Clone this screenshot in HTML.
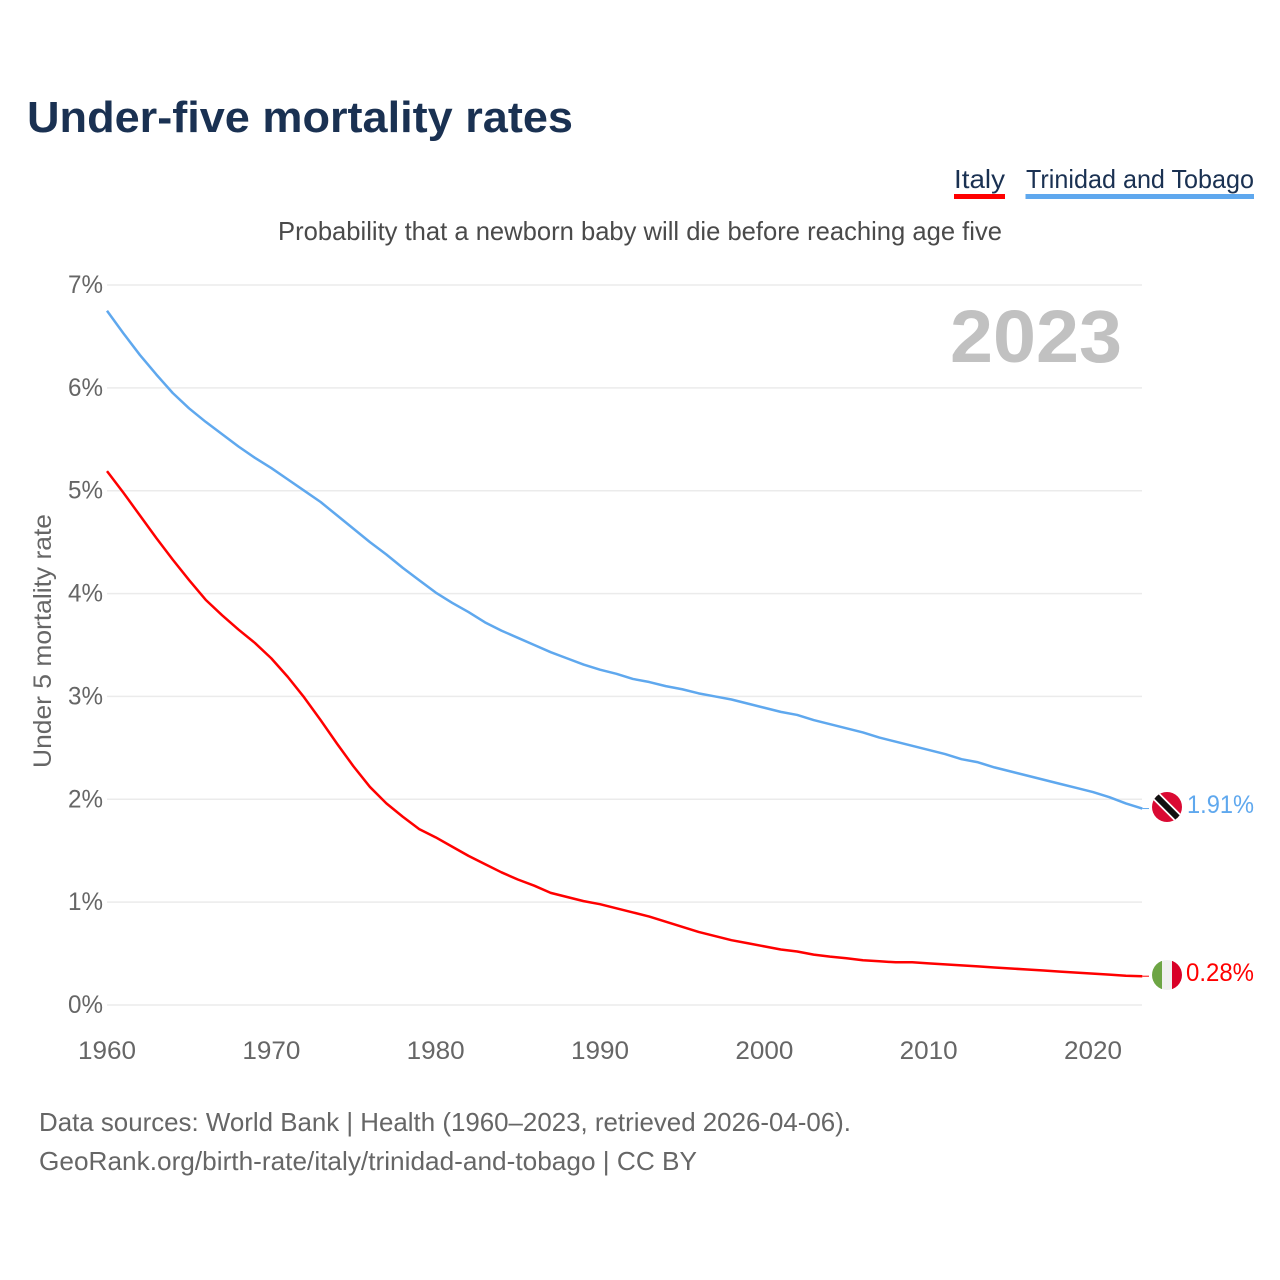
<!DOCTYPE html>
<html lang="en">
<head>
<meta charset="utf-8">
<title>Under-five mortality rates</title>
<style>
html,body{margin:0;padding:0;background:#fff;width:1280px;height:1280px;overflow:hidden}
svg{display:block}
text{font-family:"Liberation Sans",sans-serif}
</style>
</head>
<body>
<svg id="chart" width="1280" height="1280" viewBox="0 0 1280 1280" xmlns="http://www.w3.org/2000/svg">
  <defs>
    <clipPath id="clip-tt"><circle cx="1167" cy="807" r="15"/></clipPath>
    <clipPath id="clip-it"><circle cx="1167" cy="975" r="15"/></clipPath>
  </defs>
  <rect width="1280" height="1280" fill="#fff"/>
  <text x="27" y="132" font-size="44" font-weight="700" fill="#1a3152" textLength="546" lengthAdjust="spacingAndGlyphs">Under-five mortality rates</text>

  <g>
    <text x="954" y="188" font-size="26" fill="#1a3152" textLength="51" lengthAdjust="spacingAndGlyphs">Italy</text>
    <rect x="954" y="194" width="51" height="5" fill="#ff0000"/>
  </g>
  <g>
    <text x="1026" y="188" font-size="26" fill="#1a3152" textLength="228" lengthAdjust="spacingAndGlyphs">Trinidad and Tobago</text>
    <rect x="1025.500" y="194" width="228.500" height="5" fill="#5fa8ee"/>
  </g>

  <text x="278" y="240" font-size="26" fill="#4a4a4a" textLength="724" lengthAdjust="spacingAndGlyphs">Probability that a newborn baby will die before reaching age five</text>

  <g id="grid"></g>
  <g id="yticks"></g>
  <g id="xticks"></g>

  <text transform="translate(51,768) rotate(-90)" x="0" y="0" font-size="25" fill="#666" textLength="254" lengthAdjust="spacingAndGlyphs">Under 5 mortality rate</text>

  <text x="1122" y="362" text-anchor="end" font-size="74" font-weight="700" fill="#c1c1c1" textLength="172" lengthAdjust="spacingAndGlyphs">2023</text>

  <g id="series"></g>

  <g clip-path="url(#clip-tt)">
    <rect x="1152" y="792" width="30" height="30" fill="#da0a33"/>
    <line x1="1150" y1="790" x2="1184" y2="824" stroke="#fff" stroke-width="9.500"/>
    <line x1="1150" y1="790" x2="1184" y2="824" stroke="#111" stroke-width="6"/>
  </g>
  <g clip-path="url(#clip-it)">
    <rect x="1152" y="960" width="10" height="30" fill="#6da544"/>
    <rect x="1162" y="960" width="10" height="30" fill="#f0f0f0"/>
    <rect x="1172" y="960" width="10" height="30" fill="#d80027"/>
  </g>

  <text id="label-tt" x="1187" y="813" font-size="25" fill="#5fa8ee" textLength="67" lengthAdjust="spacingAndGlyphs"></text>
  <text id="label-it" x="1186" y="981" font-size="25" fill="#ff0000" textLength="68" lengthAdjust="spacingAndGlyphs"></text>

  <text x="39" y="1131" font-size="26" fill="#666" textLength="812" lengthAdjust="spacingAndGlyphs">Data sources: World Bank | Health (1960–2023, retrieved 2026-04-06).</text>
  <text x="39" y="1170" font-size="26" fill="#666" textLength="658" lengthAdjust="spacingAndGlyphs">GeoRank.org/birth-rate/italy/trinidad-and-tobago | CC BY</text>
</svg>
<script>
const startYear = 1960;
const yTickValues = [0, 1, 2, 3, 4, 5, 6, 7];
const yTickLabels = ["0%", "1%", "2%", "3%", "4%", "5%", "6%", "7%"];
const xTickValues = [1960, 1970, 1980, 1990, 2000, 2010, 2020];
const xTickLabels = ["1960", "1970", "1980", "1990", "2000", "2010", "2020"];
const trinidadValues = [
  6.75, 6.53, 6.32, 6.13, 5.95, 5.80, 5.67, 5.55, 5.43, 5.32,
  5.22, 5.11, 5.00, 4.89, 4.76, 4.63, 4.50, 4.38, 4.25, 4.13,
  4.01, 3.91, 3.82, 3.72, 3.64, 3.57, 3.50, 3.43, 3.37, 3.31,
  3.26, 3.22, 3.17, 3.14, 3.10, 3.07, 3.03, 3.00, 2.97, 2.93,
  2.89, 2.85, 2.82, 2.77, 2.73, 2.69, 2.65, 2.60, 2.56, 2.52,
  2.48, 2.44, 2.39, 2.36, 2.31, 2.27, 2.23, 2.19, 2.15, 2.11,
  2.07, 2.02, 1.96, 1.91
];
const italyValues = [
  5.19, 4.98, 4.76, 4.54, 4.33, 4.13, 3.94, 3.79, 3.65, 3.52,
  3.37, 3.19, 2.99, 2.77, 2.54, 2.32, 2.12, 1.96, 1.83, 1.71,
  1.63, 1.54, 1.45, 1.37, 1.29, 1.22, 1.16, 1.09, 1.05, 1.01,
  0.98, 0.94, 0.90, 0.86, 0.81, 0.76, 0.71, 0.67, 0.63, 0.60,
  0.57, 0.54, 0.52, 0.49, 0.47, 0.455, 0.435, 0.425, 0.415, 0.415,
  0.405, 0.395, 0.385, 0.375, 0.365, 0.355, 0.345, 0.335, 0.325, 0.315,
  0.305, 0.295, 0.285, 0.28
];

const NS = "http://www.w3.org/2000/svg";
function xScale(year) { return 107 + (year - 1960) * (1093 - 107) / 60; }
function yScale(v) { return 1005 - v * (1005 - 285) / 7; }
function mk(tag, attrs, parent) {
  const el = document.createElementNS(NS, tag);
  for (const k in attrs) el.setAttribute(k, attrs[k]);
  parent.appendChild(el);
  return el;
}

const grid = document.getElementById("grid");
const yticks = document.getElementById("yticks");
const xticks = document.getElementById("xticks");
const series = document.getElementById("series");

yTickValues.forEach(function (v, i) {
  const line = mk("line", { x1: 107, x2: 1142, y1: yScale(v), y2: yScale(v), stroke: "#ebebeb", "stroke-width": 1.5 }, grid);
  
  
  const label = mk("text", { x: 103, y: yScale(v) + 8, "text-anchor": "end", "font-size": 25, fill: "#666", textLength: 35, lengthAdjust: "spacingAndGlyphs" }, yticks);
  
  
  label.textContent = yTickLabels[i];
});

xTickValues.forEach(function (y, i) {
  const label = mk("text", { x: xScale(y), y: 1059, "text-anchor": "middle", "font-size": 25, fill: "#666", textLength: 58, lengthAdjust: "spacingAndGlyphs" }, xticks);
  
  
  label.textContent = xTickLabels[i];
});

function linePath(values) {
  return values.map(function (v, i) {
    return (i ? "L" : "M") + xScale(startYear + i).toFixed(2) + " " + yScale(v).toFixed(2);
  }).join(" ");
}
function endY(values) { return yScale(values[values.length - 1]); }
function endX(values) { return xScale(startYear + values.length - 1); }

const lineTT = mk("path", { d: linePath(trinidadValues), fill: "none", stroke: "#5fa8ee", "stroke-width": 2.500, "stroke-linejoin": "round" }, series);



const lineIT = mk("path", { d: linePath(italyValues), fill: "none", stroke: "#ff0000", "stroke-width": 2.500, "stroke-linejoin": "round" }, series);



const connTT = mk("line", { x1: endX(trinidadValues), x2: 1149, y1: endY(trinidadValues), y2: endY(trinidadValues), stroke: "#5fa8ee", "stroke-width": 1 }, series);



const connIT = mk("line", { x1: endX(italyValues), x2: 1149, y1: endY(italyValues), y2: endY(italyValues), stroke: "#ff0000", "stroke-width": 1 }, series);



document.getElementById("label-tt").textContent = trinidadValues[trinidadValues.length - 1].toFixed(2) + "%";
document.getElementById("label-it").textContent = italyValues[italyValues.length - 1].toFixed(2) + "%";
</script>
</body>
</html>
